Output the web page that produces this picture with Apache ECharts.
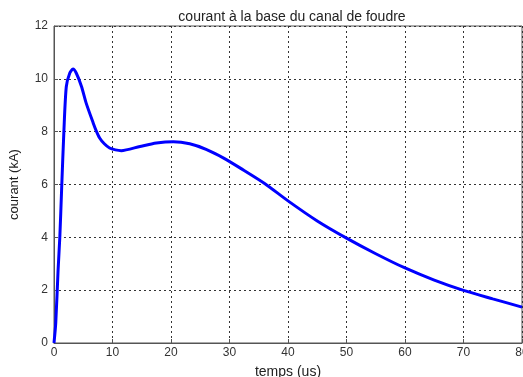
<!DOCTYPE html>
<html><head><meta charset="utf-8">
<script src="https://cdn.jsdelivr.net/npm/echarts@6/dist/echarts.min.js"></script>
<style>html,body{margin:0;padding:0;background:#fff}#c{width:523px;height:377px}</style>
</head><body><div id="c"></div>
<script>
const titleText = "courant à la base du canal de foudre";
const xName = "temps (us)";
const yName = "courant (kA)";
const tUs = [0, 0.3, 0.7, 1.0, 1.3, 1.7, 2.1, 2.7, 3.25, 3.8, 4.7, 5.5, 6.7, 7.2, 7.8, 8.6, 9.5, 10.5, 11.5, 14.7, 17.5, 20.4, 23.2, 26, 29, 32, 36, 40, 45, 50, 55, 60, 65, 70, 75, 80];
const courantKA = [0, 0.76, 2.77, 4.03, 5.8, 8.07, 9.7, 10.22, 10.37, 10.22, 9.71, 9.08, 8.33, 8.04, 7.76, 7.54, 7.38, 7.31, 7.28, 7.44, 7.57, 7.62, 7.54, 7.33, 7.0, 6.6, 6.04, 5.38, 4.62, 3.97, 3.38, 2.84, 2.38, 1.99, 1.67, 1.36];

const chart = echarts.init(document.getElementById('c'), null, {renderer: 'canvas'});
const font = 'Liberation Sans, Arial, sans-serif';
const gridLine = {show: true, lineStyle: {color: '#333', width: 1, type: [2, 3]}};
chart.setOption({
  animation: false,
  title: {text: titleText, left: 287, top: 5, textAlign: 'center',
    textStyle: {fontFamily: font, fontSize: 14, fontWeight: 'normal', color: '#222'}},
  grid: {left: 54, right: 1, top: 26, bottom: 34, show: true, borderColor: '#555', borderWidth: 1,
    containLabel: false, outerBoundsMode: 'none'},
  xAxis: {type: 'value', min: 0, max: 80, interval: 10,
    name: xName, nameLocation: 'middle', nameGap: 22,
    nameTextStyle: {fontFamily: font, fontSize: 14, color: '#222', verticalAlign: 'top'},
    axisLine: {show: true, lineStyle: {color: '#555'}},
    axisTick: {show: true, inside: true, length: 4, lineStyle: {color: '#555'}},
    axisLabel: {fontFamily: font, fontSize: 12, color: '#333', margin: 4, showMaxLabel: true},
    splitLine: gridLine},
  yAxis: {type: 'value', min: 0, max: 12, interval: 2,
    name: yName, nameLocation: 'middle', nameGap: 33, nameRotate: 90,
    nameTextStyle: {fontFamily: font, fontSize: 13, color: '#222'},
    axisLine: {show: true, lineStyle: {color: '#555'}},
    axisTick: {show: true, inside: true, length: 4, lineStyle: {color: '#555'}},
    axisLabel: {fontFamily: font, fontSize: 12, color: '#333', margin: 6},
    splitLine: gridLine},
  series: [{type: 'line', data: tUs.map((t, i) => [t, courantKA[i]]),
    smooth: 0.25, showSymbol: false, symbol: 'none',
    lineStyle: {color: '#0000ff', width: 3}}]
});
</script></body></html>
